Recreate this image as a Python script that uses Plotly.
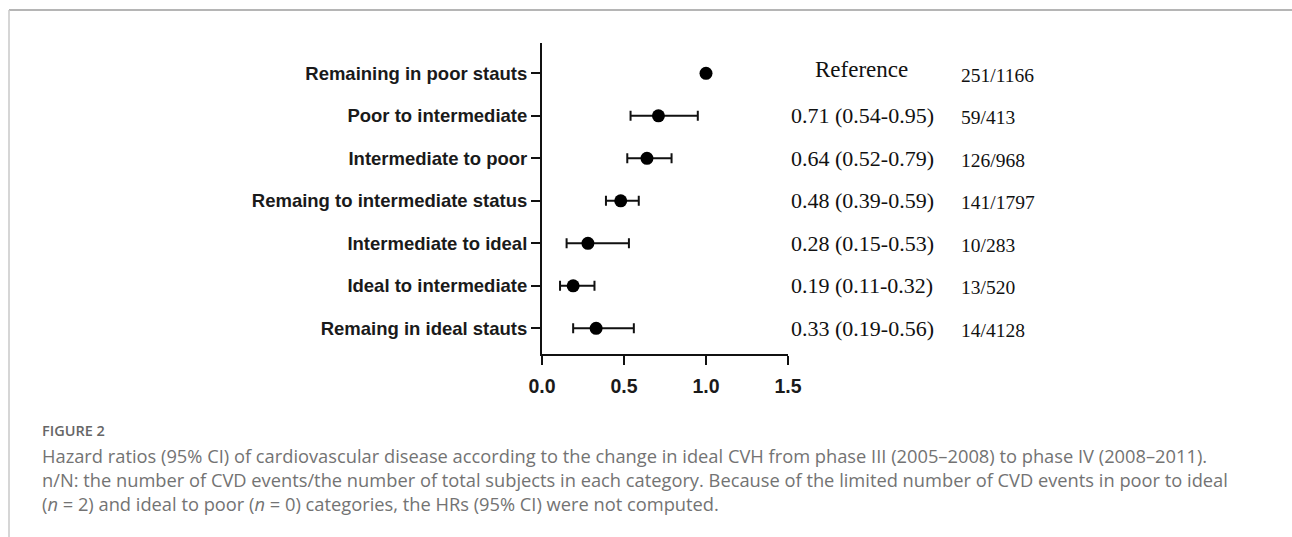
import plotly.graph_objects as go

# ---- data ----
categories = [
    "Remaining in poor stauts",
    "Poor to intermediate",
    "Intermediate to poor",
    "Remaing to intermediate status",
    "Intermediate to ideal",
    "Ideal to intermediate",
    "Remaing in ideal stauts",
]
hr = [1.00, 0.71, 0.64, 0.48, 0.28, 0.19, 0.33]
ci_low = [1.00, 0.54, 0.52, 0.39, 0.15, 0.11, 0.19]
ci_high = [1.00, 0.95, 0.79, 0.59, 0.53, 0.32, 0.56]
hr_labels = [
    "Reference",
    "0.71 (0.54-0.95)",
    "0.64 (0.52-0.79)",
    "0.48 (0.39-0.59)",
    "0.28 (0.15-0.53)",
    "0.19 (0.11-0.32)",
    "0.33 (0.19-0.56)",
]
n_over_N = ["251/1166", "59/413", "126/968", "141/1797", "10/283", "13/520", "14/4128"]
x_ticks = [0.0, 0.5, 1.0, 1.5]
x_tick_text = ["0.0", "0.5", "1.0", "1.5"]

caption_head = "FIGURE 2"
caption_lines = [
    "Hazard ratios (95% CI) of cardiovascular disease according to the change in ideal CVH from phase III (2005\u20132008) to phase IV (2008\u20132011).",
    "n/N: the number of CVD events/the number of total subjects in each category. Because of the limited number of CVD events in poor to ideal",
    "(<i>n</i> = 2) and ideal to poor (<i>n</i> = 0) categories, the HRs (95% CI) were not computed.",
]

# ---- layout geometry (pixels) ----
W, H = 1292, 537
def px(x):
    return x / W
def py(y):
    return 1 - y / H

err_plus = [h - v for h, v in zip(ci_high, hr)]
err_minus = [v - l for v, l in zip(hr, ci_low)]
show_err = [lab != "Reference" for lab in hr_labels]

fig = go.Figure()
fig.add_trace(go.Scatter(
    x=hr,
    y=categories,
    mode="markers",
    marker=dict(color="black", size=13, symbol="circle"),
    error_x=dict(
        type="data",
        symmetric=False,
        array=[p if s else 0 for p, s in zip(err_plus, show_err)],
        arrayminus=[m if s else 0 for m, s in zip(err_minus, show_err)],
        color="#111111",
        thickness=2,
        width=5,
    ),
    showlegend=False,
    hoverinfo="skip",
))

serif = "Liberation Serif, Times New Roman, serif"
annotations = []
for cat, lab, nn in zip(categories, hr_labels, n_over_N):
    if lab == "Reference":
        annotations.append(dict(x=px(861), xref="paper", y=cat, yref="y", text=lab,
                                showarrow=False, xanchor="center", yshift=4,
                                font=dict(family=serif, size=23, color="#111")))
    else:
        annotations.append(dict(x=px(789), xref="paper", y=cat, yref="y", text=lab,
                                showarrow=False, xanchor="left",
                                font=dict(family=serif, size=22, color="#111")))
    annotations.append(dict(x=px(959), xref="paper", y=cat, yref="y", text=nn,
                            showarrow=False, xanchor="left", yshift=-2,
                            font=dict(family=serif, size=19.5, color="#111")))

cap_font = "Open Sans, Noto Sans, sans-serif"
annotations.append(dict(x=px(40), xref="paper", y=py(430), yref="paper", text=caption_head,
                        showarrow=False, xanchor="left", yanchor="middle",
                        font=dict(family=cap_font, size=14.5, color="#666", weight=600)))
annotations.append(dict(x=px(40), xref="paper", y=py(479.5), yref="paper",
                        text="<br>".join(caption_lines), align="left",
                        showarrow=False, xanchor="left", yanchor="middle",
                        font=dict(family=cap_font, size=18.3, color="#737373")))

shapes = [
    dict(type="line", xref="paper", yref="paper", x0=px(9), x1=1, y0=py(10), y1=py(10),
         line=dict(color="#b5b5b5", width=2)),
    dict(type="line", xref="paper", yref="paper", x0=px(9), x1=px(9), y0=py(10), y1=0,
         line=dict(color="#c8c8c8", width=1.5)),
]

axis_font = dict(family="Liberation Sans Narrow, Arial Narrow, Liberation Sans, Arial, sans-serif",
                 size=18.5, color="#1a1a1a", weight="bold")

fig.update_layout(
    width=W, height=H,
    margin=dict(l=0, r=0, t=0, b=0, autoexpand=False),
    paper_bgcolor="white",
    plot_bgcolor="white",
    xaxis=dict(
        domain=[px(542), px(788)],
        range=[0, 1.5],
        tickvals=x_ticks,
        ticktext=x_tick_text,
        showgrid=False, zeroline=False,
        showline=True, linecolor="#111", linewidth=2,
        ticks="outside", ticklen=9, tickwidth=2, tickcolor="#111",
        tickfont=dict(axis_font, size=19.5),
        ticklabelstandoff=5,
        automargin=False,
        anchor="y",
    ),
    yaxis=dict(
        domain=[py(354), py(43)],
        type="category",
        categoryorder="array",
        categoryarray=categories,
        range=[6.605, -0.713],
        showgrid=False, zeroline=False,
        showline=True, linecolor="#111", linewidth=2,
        ticks="outside", ticklen=9, tickwidth=2, tickcolor="#111",
        tickfont=axis_font,
        automargin=False,
        anchor="x",
    ),
    annotations=annotations,
    shapes=shapes,
)

fig.write_html(
    "out.html",
    config={"displayModeBar": False},
    post_script="document.body.style.margin='0';document.body.style.overflow='hidden';",
)
